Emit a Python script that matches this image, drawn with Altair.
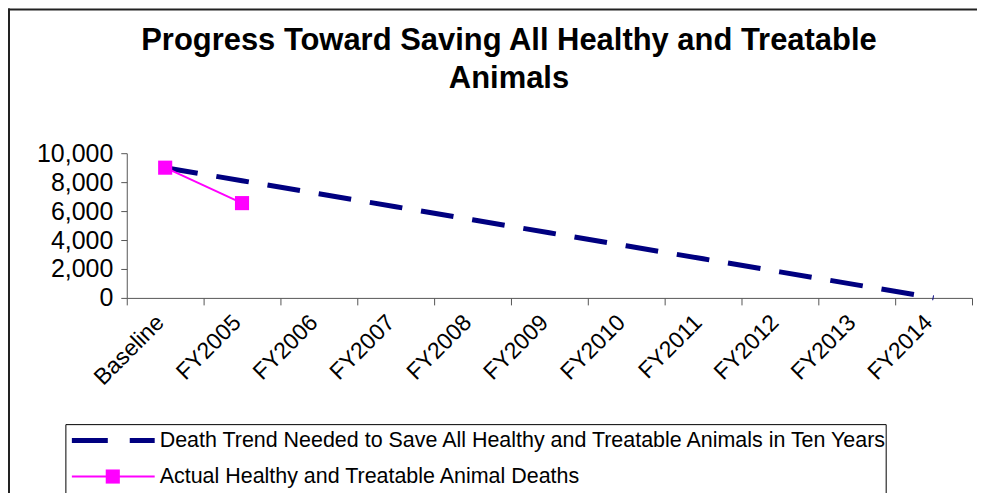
import altair as alt
import pandas as pd

# ---- data ----
categories = ["Baseline", "FY2005", "FY2006", "FY2007", "FY2008", "FY2009",
              "FY2010", "FY2011", "FY2012", "FY2013", "FY2014"]
trend_values = [9000, 8100, 7200, 6300, 5400, 4500, 3600, 2700, 1800, 900, 0]
actual_categories = ["Baseline", "FY2005"]
actual_values = [9000, 6550]
y_ticks = [0, 2000, 4000, 6000, 8000, 10000]

title_lines = ["Progress Toward Saving All Healthy and Treatable", "Animals"]
legend_labels = [
    "Death Trend Needed to Save All Healthy and Treatable Animals in Ten Years",
    "Actual Healthy and Treatable Animal Deaths",
]
series_colors = ["#000080", "#FF00FF"]

FONT = "Liberation Sans, Arial, sans-serif"

df_trend = pd.DataFrame({"cat": categories, "val": trend_values})
df_actual = pd.DataFrame({"cat": actual_categories, "val": actual_values})
df_one = pd.DataFrame({"k": [0]})

x_enc = alt.X(
    "cat:N", sort=categories, title=None,
    scale=alt.Scale(type="band", domain=categories, paddingInner=0, paddingOuter=0),
    axis=alt.Axis(labelAngle=-45, labelFontSize=23, labelFont=FONT, labelColor="black",
                  tickBand="extent", tickSize=7, labelPadding=6, labelOffset=-13,
                  domainColor="#555555", tickColor="#555555", grid=False),
)
y_enc = alt.Y(
    "val:Q", title=None,
    scale=alt.Scale(domain=[0, 10000], nice=False),
    axis=alt.Axis(values=y_ticks, format=",.0f", labelFontSize=25, labelFont=FONT,
                  labelColor="black", tickSize=6, labelPadding=8,
                  domainColor="#555555", tickColor="#555555", grid=False),
)

trend = alt.Chart(df_trend).mark_line(
    color=series_colors[0], strokeWidth=5, strokeDash=[33, 19]
).encode(x=x_enc, y=y_enc)

actual_line = alt.Chart(df_actual).mark_line(
    color=series_colors[1], strokeWidth=2
).encode(x=x_enc, y=y_enc)

actual_pts = alt.Chart(df_actual).mark_point(
    shape="square", filled=True, size=200, color=series_colors[1], opacity=1
).encode(x=x_enc, y=y_enc)

# outer chart frame: only its left and top edges fall inside the picture
border_top = alt.Chart(df_one).mark_rule(color="#222222", strokeWidth=2).encode(
    x=alt.value(-119), x2=alt.value(852), y=alt.value(-144))
border_left = alt.Chart(df_one).mark_rule(color="#222222", strokeWidth=2).encode(
    x=alt.value(-118), y=alt.value(-145), y2=alt.value(400))

# title as two centred text lines
title1 = alt.Chart(df_one).mark_text(
    align="center", baseline="alphabetic", fontSize=31, font=FONT,
    fontWeight="bold", color="black"
).encode(x=alt.value(383), y=alt.value(-103), text=alt.value(title_lines[0]))
title2 = alt.Chart(df_one).mark_text(
    align="center", baseline="alphabetic", fontSize=31, font=FONT,
    fontWeight="bold", color="black"
).encode(x=alt.value(383), y=alt.value(-65), text=alt.value(title_lines[1]))

# legend
leg_box = alt.Chart(df_one).mark_rect(
    fill="white", stroke="black", strokeWidth=1
).encode(x=alt.value(-61), x2=alt.value(761), y=alt.value(272), y2=alt.value(344))

leg1_line = alt.Chart(df_one).mark_rule(
    color=series_colors[0], strokeWidth=5, strokeDash=[36, 22]
).encode(x=alt.value(-55), x2=alt.value(28), y=alt.value(288))
leg1_text = alt.Chart(df_one).mark_text(
    align="left", baseline="middle", fontSize=21.5, font=FONT, color="black"
).encode(x=alt.value(33), y=alt.value(288), text=alt.value(legend_labels[0]))

leg2_line = alt.Chart(df_one).mark_rule(
    color=series_colors[1], strokeWidth=2
).encode(x=alt.value(-55), x2=alt.value(28), y=alt.value(324))
leg2_pt = alt.Chart(df_one).mark_point(
    shape="square", filled=True, size=200, color=series_colors[1], opacity=1
).encode(x=alt.value(-14), y=alt.value(324))
leg2_text = alt.Chart(df_one).mark_text(
    align="left", baseline="middle", fontSize=21.5, font=FONT, color="black"
).encode(x=alt.value(33), y=alt.value(324), text=alt.value(legend_labels[1]))

chart = alt.layer(
    border_top, border_left, title1, title2, trend, actual_line, actual_pts,
    leg_box, leg1_line, leg1_text, leg2_line, leg2_pt, leg2_text,
).properties(
    width=847, height=145,
    autosize=alt.AutoSizeParams(type="none"),
    padding={"left": 119, "top": 145, "right": 5, "bottom": 195},
    background="white",
).configure_view(strokeWidth=0)

chart.save("out.html", embed_options={"renderer": "svg", "actions": False})
